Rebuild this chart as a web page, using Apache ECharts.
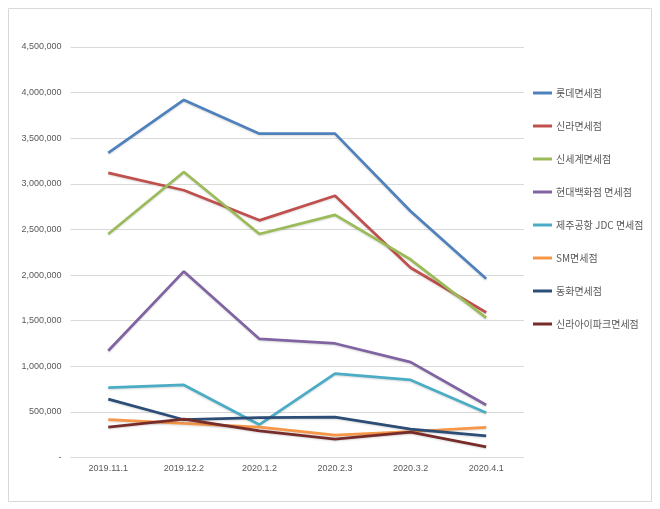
<!DOCTYPE html>
<html><head><meta charset="utf-8">
<script src="https://cdn.jsdelivr.net/npm/echarts@6/dist/echarts.min.js"></script>
<style>html,body{margin:0;padding:0;background:#fff}#c{width:660px;height:509px}</style>
</head><body><div id="c"></div>
<script>
const categories = ['2019.11.1','2019.12.2','2020.1.2','2020.2.3','2020.3.2','2020.4.1'];
const seriesNames = ['롯데면세점','신라면세점','신세계면세점','현대백화점 면세점','제주공항 JDC 면세점','SM면세점','동화면세점','신라아이파크면세점'];
const lotte = [3340000, 3920000, 3550000, 3550000, 2700000, 1960000];
const shilla = [3120000, 2930000, 2600000, 2870000, 2080000, 1590000];
const shinsegae = [2450000, 3130000, 2450000, 2660000, 2170000, 1530000];
const hyundai = [1170000, 2040000, 1300000, 1250000, 1045000, 575000];
const jeju = [765000, 795000, 360000, 920000, 850000, 490000];
const sm = [414000, 373000, 334000, 246000, 285000, 330000];
const donghwa = [640000, 414000, 436000, 443000, 312000, 238000];
const shillaIpark = [334000, 421000, 293000, 202000, 279000, 117000];
const yTicks = [0, 500000, 1000000, 1500000, 2000000, 2500000, 3000000, 3500000, 4000000, 4500000];

const dataList = [lotte, shilla, shinsegae, hyundai, jeju, sm, donghwa, shillaIpark];
const colors = ['#4F81BD','#C0504D','#9BBB59','#8064A2','#4BACC6','#F79646','#2C4D75','#772C2A'];

const chart = echarts.init(document.getElementById('c'));
chart.setOption({
  animation: false,
  color: colors,
  graphic: [{type:'rect', shape:{x:8.5,y:8.5,width:643,height:493}, style:{fill:'none', stroke:'#d9d9d9', lineWidth:1}, z:-1}],
  grid: {left: 70.5, right: 136, top: 47, bottom: 51.5},
  legend: {
    orient: 'vertical', left: 533, top: 88, itemGap: 23, padding: 0,
    itemWidth: 19, itemHeight: 3,
    icon: 'rect',
    textStyle: {fontFamily: 'Noto Sans CJK KR', fontSize: 10, color: '#595959', padding:[0,0,0,-1]},
    data: seriesNames
  },
  xAxis: {
    type: 'category', data: categories, boundaryGap: true,
    axisLine: {show: false}, axisTick: {show: false},
    axisLabel: {fontFamily: 'Liberation Sans', fontSize: 9, color: '#595959', margin: 7}
  },
  yAxis: {
    type: 'value', min: 0, max: 4500000, interval: 500000,
    axisLine: {show: false}, axisTick: {show: false},
    splitLine: {lineStyle: {color: '#d9d9d9', width: 1}},
    axisLabel: {fontFamily: 'Liberation Sans', fontSize: 9, color: '#595959', margin: 9,
      formatter: v => v === 0 ? '-' : v.toLocaleString('en-US')}
  },
  series: dataList.map((d, i) => ({
    name: seriesNames[i], type: 'line', data: d, symbol: 'none',
    lineStyle: {width: 2.75, color: colors[i], shadowColor: 'rgba(0,0,0,0.15)', shadowBlur: 2, shadowOffsetY: 1}
  }))
});
</script></body></html>
